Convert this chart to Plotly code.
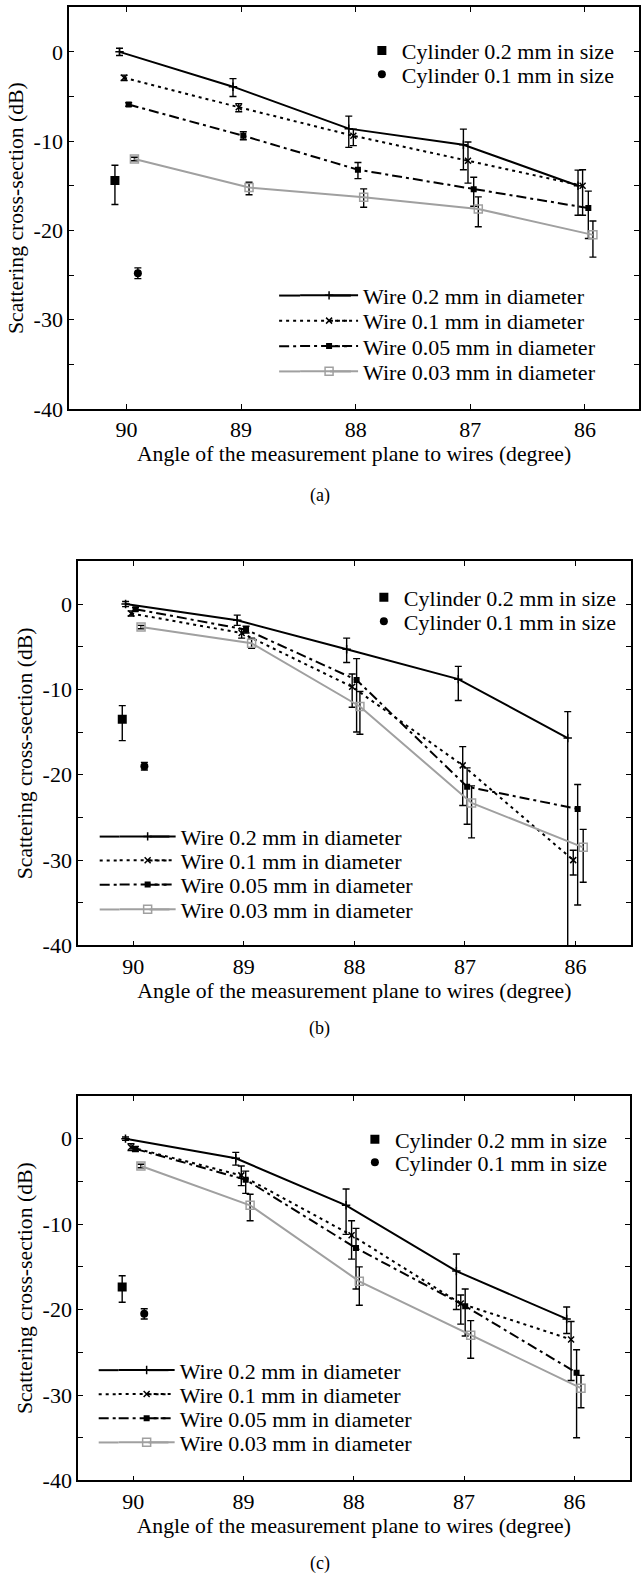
import plotly.graph_objects as go

W, H = 641, 1584
FONT = "Liberation Serif"
GRAY = "#a0a0a0"
FS = 22          # tick labels / legend
FT = 21.7        # axis titles

NAMES = {
    "cyl02": "Cylinder 0.2 mm in size",
    "cyl01": "Cylinder 0.1 mm in size",
    "w02": "Wire 0.2 mm in diameter",
    "w01": "Wire 0.1 mm in diameter",
    "w005": "Wire 0.05 mm in diameter",
    "w003": "Wire 0.03 mm in diameter",
}

X_TICKS = [90, 89, 88, 87, 86]
X_TICK_LABELS = ["90", "89", "88", "87", "86"]
Y_TICKS = [0, -10, -20, -30, -40]
Y_TICK_LABELS = ["0", "-10", "-20", "-30", "-40"]
Y_MINOR = [-5, -15, -25, -35]

# ---------------- panel (a) ----------------
a_cyl02_x = [90.10]; a_cyl02_y = [-14.4]; a_cyl02_up = [1.7]; a_cyl02_dn = [2.7]
a_cyl01_x = [89.90]; a_cyl01_y = [-24.8]; a_cyl01_up = [0.6]; a_cyl01_dn = [0.6]
a_w02_x = [90.06, 89.07, 88.06, 87.06, 86.06]
a_w02_y = [0.0, -3.9, -8.6, -10.4, -15.0]
a_w02_up = [0.4, 0.9, 1.4, 1.75, 1.75]
a_w02_dn = [0.4, 1.1, 2.1, 2.8, 3.3]
a_w01_x = [90.02, 89.02, 88.02, 87.02, 86.02]
a_w01_y = [-2.9, -6.2, -9.4, -12.2, -15.0]
a_w01_up = [0.3, 0.4, 0.75, 2.1, 1.8]
a_w01_dn = [0.3, 0.5, 1.1, 2.5, 3.3]
a_w005_x = [89.98, 88.98, 87.98, 86.97, 85.97]
a_w005_y = [-5.9, -9.4, -13.2, -15.4, -17.5]
a_w005_up = [0.2, 0.45, 0.8, 1.35, 1.9]
a_w005_dn = [0.2, 0.45, 1.0, 1.9, 3.4]
a_w003_x = [89.93, 88.93, 87.93, 86.93, 85.93]
a_w003_y = [-12.0, -15.2, -16.3, -17.6, -20.5]
a_w003_up = [0.2, 0.6, 0.95, 1.35, 1.55]
a_w003_dn = [0.2, 0.8, 1.1, 2.0, 2.5]

# ---------------- panel (b) ----------------
b_cyl02_x = [90.10]; b_cyl02_y = [-13.5]; b_cyl02_up = [1.6]; b_cyl02_dn = [2.5]
b_cyl01_x = [89.90]; b_cyl01_y = [-19.0]; b_cyl01_up = [0.45]; b_cyl01_dn = [0.45]
b_w02_x = [90.07, 89.06, 88.07, 87.06, 86.07]
b_w02_y = [0.0, -1.9, -5.3, -8.8, -15.7]
b_w02_up = [0.3, 0.6, 1.3, 1.5, 3.1]
b_w02_dn = [0.3, 0.6, 1.55, 2.5, 30.0]
b_w01_x = [90.02, 89.02, 88.02, 87.02, 86.02]
b_w01_y = [-1.1, -3.4, -9.7, -18.9, -30.0]
b_w01_up = [0.3, 0.5, 1.5, 2.2, 1.15]
b_w01_dn = [0.3, 0.6, 2.4, 4.7, 1.75]
b_w005_x = [89.98, 88.98, 87.98, 86.98, 85.98]
b_w005_y = [-0.6, -3.0, -8.9, -21.4, -24.0]
b_w005_up = [0.2, 0.4, 2.5, 2.2, 2.85]
b_w005_dn = [0.2, 0.4, 6.1, 4.4, 11.25]
b_w003_x = [89.93, 88.93, 87.95, 86.94, 85.93]
b_w003_y = [-2.7, -4.6, -12.0, -23.3, -28.5]
b_w003_up = [0.2, 0.6, 1.75, 2.0, 2.1]
b_w003_dn = [0.2, 0.6, 3.25, 4.1, 4.1]

# ---------------- panel (c) ----------------
c_cyl02_x = [90.10]; c_cyl02_y = [-17.35]; c_cyl02_up = [1.3]; c_cyl02_dn = [1.8]
c_cyl01_x = [89.90]; c_cyl01_y = [-20.5]; c_cyl01_up = [0.6]; c_cyl01_dn = [0.6]
c_w02_x = [90.07, 89.07, 88.07, 87.07, 86.07]
c_w02_y = [0.0, -2.3, -7.8, -15.5, -21.1]
c_w02_up = [0.2, 0.7, 1.9, 2.0, 1.4]
c_w02_dn = [0.2, 0.8, 3.4, 4.5, 1.7]
c_w01_x = [90.02, 89.02, 88.02, 87.03, 86.03]
c_w01_y = [-1.0, -4.3, -11.3, -19.3, -23.5]
c_w01_up = [0.4, 1.1, 1.7, 1.0, 2.1]
c_w01_dn = [0.4, 1.2, 2.8, 2.4, 4.8]
c_w005_x = [89.98, 88.98, 87.98, 86.99, 85.98]
c_w005_y = [-1.2, -4.8, -12.8, -19.6, -27.4]
c_w005_up = [0.3, 1.0, 2.3, 2.0, 2.7]
c_w005_dn = [0.3, 1.6, 4.8, 3.5, 7.6]
c_w003_x = [89.93, 88.94, 87.95, 86.94, 85.94]
c_w003_y = [-3.2, -7.8, -16.7, -23.0, -29.2]
c_w003_up = [0.2, 1.3, 1.7, 1.7, 1.5]
c_w003_dn = [0.2, 1.8, 2.8, 2.7, 2.3]

DATA = {
    "a": {
        "cyl02": (a_cyl02_x, a_cyl02_y, a_cyl02_up, a_cyl02_dn),
        "cyl01": (a_cyl01_x, a_cyl01_y, a_cyl01_up, a_cyl01_dn),
        "w02": (a_w02_x, a_w02_y, a_w02_up, a_w02_dn),
        "w01": (a_w01_x, a_w01_y, a_w01_up, a_w01_dn),
        "w005": (a_w005_x, a_w005_y, a_w005_up, a_w005_dn),
        "w003": (a_w003_x, a_w003_y, a_w003_up, a_w003_dn),
    },
    "b": {
        "cyl02": (b_cyl02_x, b_cyl02_y, b_cyl02_up, b_cyl02_dn),
        "cyl01": (b_cyl01_x, b_cyl01_y, b_cyl01_up, b_cyl01_dn),
        "w02": (b_w02_x, b_w02_y, b_w02_up, b_w02_dn),
        "w01": (b_w01_x, b_w01_y, b_w01_up, b_w01_dn),
        "w005": (b_w005_x, b_w005_y, b_w005_up, b_w005_dn),
        "w003": (b_w003_x, b_w003_y, b_w003_up, b_w003_dn),
    },
    "c": {
        "cyl02": (c_cyl02_x, c_cyl02_y, c_cyl02_up, c_cyl02_dn),
        "cyl01": (c_cyl01_x, c_cyl01_y, c_cyl01_up, c_cyl01_dn),
        "w02": (c_w02_x, c_w02_y, c_w02_up, c_w02_dn),
        "w01": (c_w01_x, c_w01_y, c_w01_up, c_w01_dn),
        "w005": (c_w005_x, c_w005_y, c_w005_up, c_w005_dn),
        "w003": (c_w003_x, c_w003_y, c_w003_up, c_w003_dn),
    },
}

# ---------------- styles ----------------
DASH = {"w02": "solid", "w01": "3px,4px", "w005": "10px,4px,3px,4px", "w003": "solid"}
LCOL = {"w02": "black", "w01": "black", "w005": "black", "w003": GRAY}
MARK = {
    "cyl02": dict(symbol="square", size=9, color="black"),
    "cyl01": dict(symbol="circle", size=8, color="black"),
    "w02": dict(symbol="cross-thin", size=6, color="black", line=dict(width=1.5, color="black")),
    "w01": dict(symbol="x-thin", size=6, color="black", line=dict(width=1.5, color="black")),
    "w005": dict(symbol="square", size=6, color="black"),
    "w003": dict(symbol="square-open", size=8, color=GRAY, line=dict(width=1.5, color=GRAY)),
}

# panel geometry (pixels in the 641x1584 page)
PANELS = [
    dict(key="a", n="", x0=69.3, x1=641.0, y0=7.3, y1=412.3, xr=[90.5, 85.528],
         cyl_org=363, cyl_y=[51, 75],
         wire_org=296, wire_iw=58, wire_y=[298, 323.5, 349, 374.5], wl0=280, wl1=352,
         cap="(a)", cap_y=500),
    dict(key="b", n="2", x0=78.3, x1=632.7, y0=566.0, y1=953.3, xr=[90.5, 85.5],
         cyl_org=365, cyl_y=[602.5, 626.5],
         wire_org=115, wire_iw=56, wire_y=[843.5, 867.5, 892.0, 917.0], wl0=100, wl1=170,
         cap="(b)", cap_y=1037),
    dict(key="c", n="3", x0=78.3, x1=631.5, y0=1105.0, y1=1492.7, xr=[90.5, 85.5],
         cyl_org=356, cyl_y=[1149.0, 1172.0],
         wire_org=114, wire_iw=56, wire_y=[1381.5, 1405.8, 1430.1, 1454.4], wl0=99, wl1=169,
         cap="(c)", cap_y=1576),
]

fig = go.Figure()
layout = dict(
    width=W, height=H, margin=dict(l=0, r=0, t=0, b=0),
    paper_bgcolor="white", plot_bgcolor="white",
    font=dict(family=FONT, size=FS, color="black"),
    showlegend=True,
)
shapes = []
annotations = []
legend_count = [0]


def new_legend(org_x, y_center, itemwidth=30):
    legend_count[0] += 1
    k = legend_count[0]
    name = "legend" if k == 1 else f"legend{k}"
    layout[name] = dict(
        x=org_x / W, y=1 - y_center / H, xanchor="left", yanchor="middle",
        xref="paper", yref="paper", bgcolor="rgba(0,0,0,0)", borderwidth=0,
        font=dict(family=FONT, size=FS, color="black"), itemwidth=itemwidth,
        itemclick=False, itemdoubleclick=False,
    )
    return name


def px_x(p):
    return p / W


def px_y(p):
    return 1 - p / H


for P in PANELS:
    xa, ya = "x" + P["n"], "y" + P["n"]
    d = DATA[P["key"]]
    # cylinders
    for i, s in enumerate(["cyl02", "cyl01"]):
        x, y, up, dn = d[s]
        lg = new_legend(P["cyl_org"], P["cyl_y"][i])
        fig.add_trace(go.Scatter(
            x=x, y=y, mode="markers", name=NAMES[s], xaxis=xa, yaxis=ya, legend=lg,
            marker=MARK[s],
            error_y=dict(type="data", symmetric=False, array=up, arrayminus=dn,
                         color="black", thickness=1.4, width=3.5),
        ))
    # wires
    for i, s in enumerate(["w02", "w01", "w005", "w003"]):
        x, y, up, dn = d[s]
        lg = new_legend(P["wire_org"], P["wire_y"][i], P["wire_iw"])
        fig.add_trace(go.Scatter(
            x=x, y=y, mode="lines+markers", name=NAMES[s], xaxis=xa, yaxis=ya, legend=lg,
            line=dict(color=LCOL[s], width=2, dash=DASH[s]),
            marker=MARK[s],
            error_y=dict(type="data", symmetric=False, array=up, arrayminus=dn,
                         color="black", thickness=1.4, width=3.5),
        ))
        # extend the legend line sample to the reference length
        yy = px_y(P["wire_y"][i])
        for a0, a1 in [(P["wl0"], P["wire_org"] + 5), (P["wire_org"] + 35, P["wl1"])]:
            shapes.append(dict(type="line", xref="paper", yref="paper",
                               x0=px_x(a0), x1=px_x(a1), y0=yy, y1=yy,
                               line=dict(color=LCOL[s], width=2, dash=DASH[s])))

    layout["xaxis" + P["n"]] = dict(
        domain=[P["x0"] / W, P["x1"] / W], anchor=ya, range=P["xr"],
        tickmode="array", tickvals=X_TICKS, ticktext=X_TICK_LABELS,
        ticks="inside", ticklen=5, tickwidth=1, tickcolor="black",
        showline=True, linecolor="black", linewidth=1.5, mirror="ticks",
        showgrid=False, zeroline=False,
        tickfont=dict(family=FONT, size=FS, color="black"),
        title=dict(text="Angle of the measurement plane to wires (degree)",
                   font=dict(family=FONT, size=FT, color="black"), standoff=2),
    )
    layout["yaxis" + P["n"]] = dict(
        domain=[1 - P["y1"] / H, 1 - P["y0"] / H], anchor=xa, range=[-40, 5],
        tickmode="array", tickvals=Y_TICKS, ticktext=Y_TICK_LABELS,
        ticks="inside", ticklen=5, tickwidth=1, tickcolor="black",
        minor=dict(tickvals=Y_MINOR, ticks="inside", ticklen=5, tickwidth=1, tickcolor="black"),
        showline=True, linecolor="black", linewidth=1.5, mirror="ticks",
        showgrid=False, zeroline=False,
        tickfont=dict(family=FONT, size=FS, color="black"),
        title=dict(text="Scattering cross-section (dB)",
                   font=dict(family=FONT, size=FT, color="black"), standoff=4),
    )
    annotations.append(dict(text=P["cap"], xref="paper", yref="paper", x=0.5,
                            y=px_y(P["cap_y"]), xanchor="center", yanchor="middle",
                            showarrow=False, font=dict(family=FONT, size=18, color="black")))

layout["shapes"] = shapes
layout["annotations"] = annotations
fig.update_layout(**layout)
fig.write_html("out.html")
